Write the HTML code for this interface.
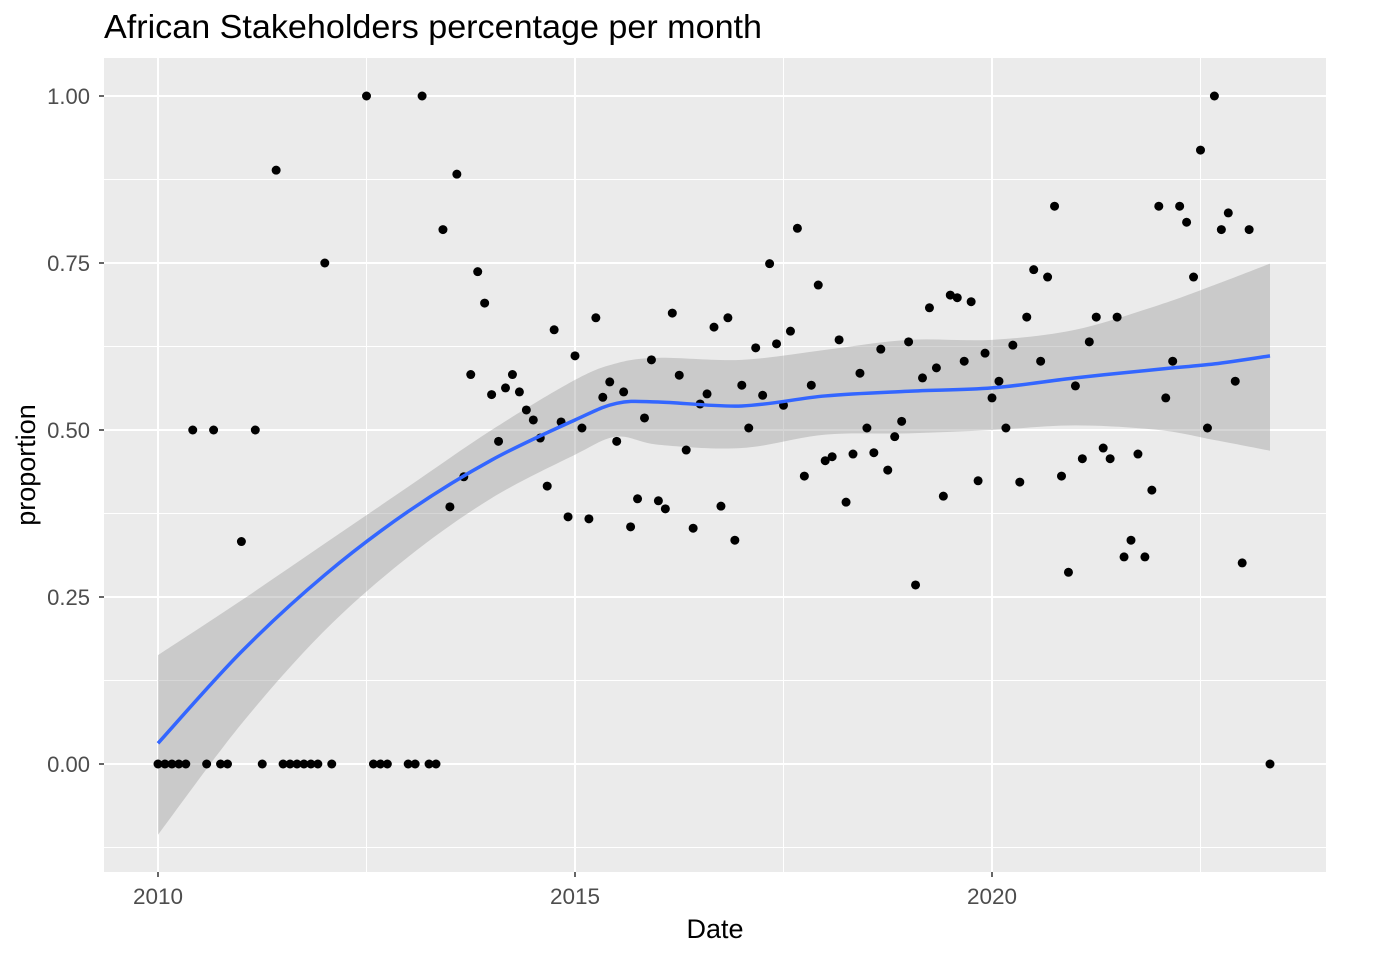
<!DOCTYPE html>
<html><head><meta charset="utf-8"><style>
body{margin:0;background:#fff;}
svg{display:block;font-family:"Liberation Sans",Arial,sans-serif;}
</style></head><body>
<svg id="chart" width="1388" height="962"></svg>
<script>
const zeroMonths=[0,1,2,3,4,7,9,10,15,18,19,20,21,22,23,25,31,32,33,36,37,39,40,160];
const ptMonths=[5,8,12,14,17,24,30,38,41,42,43,44,45,46,47,48,49,50,51,52,53,54,55,56,57,58,59,60,61,62,63,64,65,66,67,68,69,70,71,72,73,74,75,76,77,78,79,80,81,82,83,84,85,86,87,88,89,90,91,92,93,94,95,96,97,98,99,100,101,102,103,104,105,106,107,108,109,110,111,112,113,114,115,116,117,118,119,120,121,122,123,124,125,126,127,128,129,130,131,132,133,134,135,136,137,138,139,140,141,142,143,144,145,146,147,148,149,150,151,152,153,154,155,156,157];
const ptValues=[0.5,0.5,0.333,0.5,0.889,0.75,1.0,1.0,0.8,0.385,0.883,0.43,0.583,0.737,0.69,0.553,0.483,0.563,0.583,0.557,0.53,0.515,0.488,0.416,0.65,0.512,0.37,0.611,0.503,0.367,0.668,0.549,0.572,0.483,0.557,0.355,0.397,0.518,0.605,0.394,0.382,0.675,0.582,0.47,0.353,0.539,0.554,0.654,0.386,0.668,0.335,0.567,0.503,0.623,0.552,0.749,0.629,0.537,0.648,0.802,0.431,0.567,0.717,0.454,0.46,0.635,0.392,0.464,0.585,0.503,0.466,0.621,0.44,0.49,0.513,0.632,0.268,0.578,0.683,0.593,0.401,0.702,0.698,0.603,0.692,0.424,0.615,0.548,0.573,0.503,0.627,0.422,0.669,0.74,0.603,0.729,0.835,0.431,0.287,0.566,0.457,0.632,0.669,0.473,0.457,0.669,0.31,0.335,0.464,0.31,0.41,0.835,0.548,0.603,0.835,0.811,0.729,0.919,0.503,1.0,0.8,0.825,0.573,0.301,0.8];
const fitMonths=[0,12,24,36,48,60,66,72,84,96,108,120,132,144,152,160];
const fitValues=[0.031,0.168,0.283,0.378,0.455,0.515,0.54,0.542,0.536,0.551,0.558,0.563,0.578,0.591,0.599,0.611];
const fitUpper=[0.163,0.245,0.33,0.415,0.5,0.575,0.6,0.608,0.605,0.62,0.635,0.635,0.65,0.687,0.717,0.749];
const fitLower=[-0.106,0.06,0.2,0.31,0.398,0.463,0.49,0.478,0.473,0.493,0.495,0.5,0.507,0.5,0.485,0.469];
const yTicks=[0,0.25,0.5,0.75,1.0];
const yTickLabels=["0.00","0.25","0.50","0.75","1.00"];
const xTicks=[2010,2015,2020];

const NS="http://www.w3.org/2000/svg";
const svg=document.getElementById('chart');
const PL=104,PR=1326,PT=58,PB=872;
const yS=v=>764-668*v;
const xY=yr=>158+(yr-2010)*83.4;
const xM=m=>xY(2010+m/12);
function mk(tag,attrs,parent){const e=document.createElementNS(NS,tag);for(const k in attrs)e.setAttribute(k,attrs[k]);(parent||svg).appendChild(e);return e;}

const title=mk('text',{x:104,y:38,'font-size':'33',fill:'#000',textLength:658,lengthAdjust:'spacingAndGlyphs'});title.textContent='African Stakeholders percentage per month';



const panel=mk('rect',{x:PL,y:PT,width:PR-PL,height:PB-PT,fill:'#EBEBEB'});



[-0.125,0.125,0.375,0.625,0.875].forEach(v=>{const l=mk('line',{x1:PL,x2:PR,y1:yS(v),y2:yS(v),stroke:'#fff','stroke-width':1});

});
[2012.5,2017.5,2022.5].forEach(v=>{const l=mk('line',{x1:xY(v),x2:xY(v),y1:PT,y2:PB,stroke:'#fff','stroke-width':1});

});
yTicks.forEach((v,i)=>{const l=mk('line',{x1:PL,x2:PR,y1:yS(v),y2:yS(v),stroke:'#fff','stroke-width':2});


mk('line',{x1:PL-5,x2:PL,y1:yS(v),y2:yS(v),stroke:'#333','stroke-width':1.5});
const t=mk('text',{x:PL-14,y:yS(v)+8,'text-anchor':'end','font-size':'22',fill:'#4D4D4D'});t.textContent=yTickLabels[i];

});
xTicks.forEach(v=>{const l=mk('line',{x1:xY(v),x2:xY(v),y1:PT,y2:PB,stroke:'#fff','stroke-width':2});


mk('line',{x1:xY(v),x2:xY(v),y1:PB,y2:PB+5,stroke:'#333','stroke-width':1.5});
const t=mk('text',{x:xY(v),y:904,'text-anchor':'middle','font-size':'22.5',fill:'#4D4D4D'});t.textContent=String(v);

});

function crPath(xs,ys,move){let d=(move?'M':'L')+xs[0]+','+ys[0];
for(let i=0;i<xs.length-1;i++){const x0=xs[Math.max(i-1,0)],y0=ys[Math.max(i-1,0)],x1=xs[i],y1=ys[i],x2=xs[i+1],y2=ys[i+1],x3=xs[Math.min(i+2,xs.length-1)],y3=ys[Math.min(i+2,xs.length-1)];
d+=' C'+(x1+(x2-x0)/6)+','+(y1+(y2-y0)/6)+' '+(x2-(x3-x1)/6)+','+(y2-(y3-y1)/6)+' '+x2+','+y2;}return d;}
const fx=fitMonths.map(xM);
const rx=fx.slice().reverse();
const band=mk('path',{d:crPath(fx,fitUpper.map(yS),true)+' '+crPath(rx,fitLower.map(yS).reverse(),false)+' Z',fill:'#999',opacity:0.4});



zeroMonths.forEach(m=>{const c=mk('circle',{cx:xM(m),cy:yS(0),r:4.5,fill:'#000'});

});
ptMonths.forEach((m,i)=>{const c=mk('circle',{cx:xM(m),cy:yS(ptValues[i]),r:4.5,fill:'#000'});

});

const line=mk('path',{d:crPath(fx,fitValues.map(yS),true),fill:'none',stroke:'#3366FF','stroke-width':3.5});



const xt=mk('text',{x:(PL+PR)/2,y:938,'text-anchor':'middle','font-size':'27',fill:'#000'});xt.textContent='Date';


const yt=mk('text',{x:0,y:0,'text-anchor':'middle','font-size':'27',fill:'#000',transform:'translate(35,'+((PT+PB)/2)+') rotate(-90)'});yt.textContent='proportion';


</script>
</body></html>
